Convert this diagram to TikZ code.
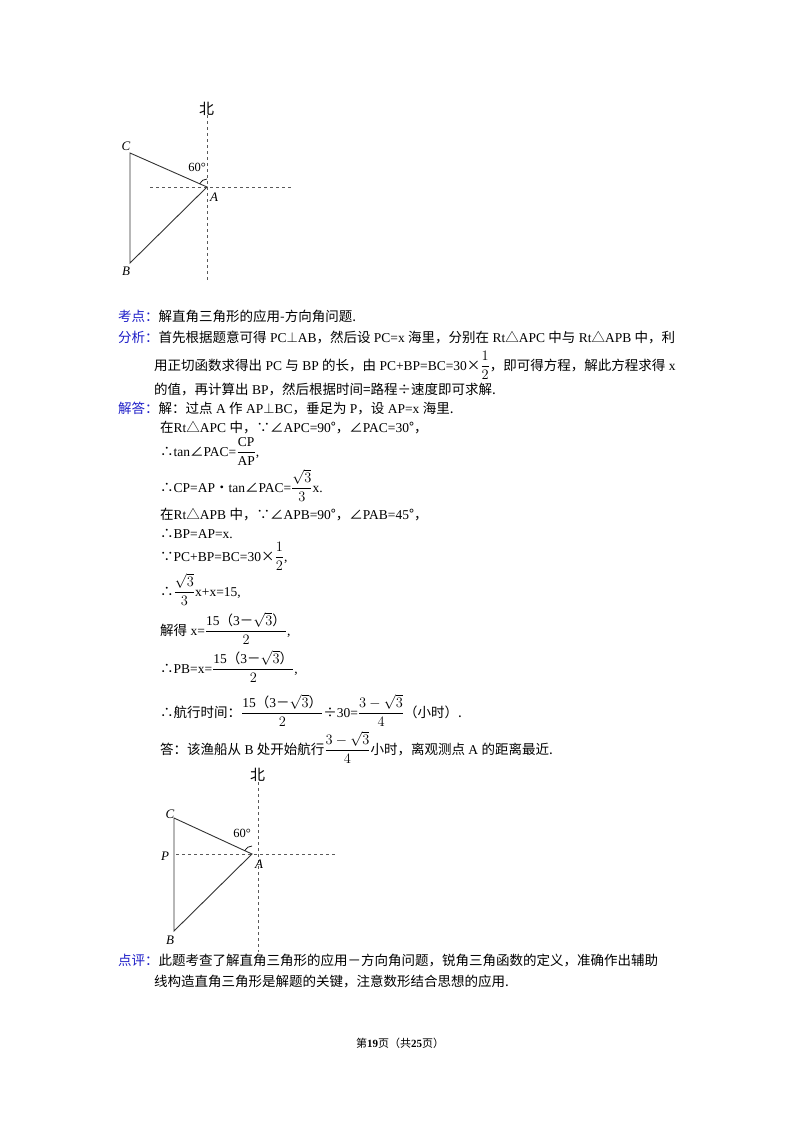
\documentclass[tikz,border=0pt]{standalone}
\usepackage{amsmath}
\usepackage{fontspec}
\setmainfont{Liberation Serif}
\newfontfamily\cjk{Noto Sans CJK SC}
\newcommand\zh[1]{{\cjk #1}}
\definecolor{labblue}{RGB}{30,30,200}
\newcommand\lab[1]{\textcolor{labblue}{\zh{#1}}}
\usetikzlibrary{calc}
\tikzset{
 line/.style={anchor=base west,inner sep=0pt,font=\fontsize{13.5}{16}\selectfont},
 dashln/.style={dash pattern=on 3pt off 3pt,gray!70!black,line width=0.8pt},
 tri/.style={line width=0.9pt,black!80},
 ptlab/.style={inner sep=0pt,font=\fontsize{13}{14}\selectfont\itshape},
 anglab/.style={inner sep=0pt,font=\fontsize{12.5}{14}\selectfont},
}
\begin{document}
\begin{tikzpicture}[x=1pt,y=-1pt]
\useasboundingbox (0,0) rectangle (800,1132);
\fill[white] (0,0) rectangle (800,1132);
% figure 1
\coordinate (n1t) at (207,115); \coordinate (n1b) at (207,282);
\coordinate (h1l) at (150,187); \coordinate (h1r) at (292,187);
\draw[dashln] (n1t) -- (n1b); \draw[dashln] (h1l) -- (h1r);
\coordinate (A1) at (207,187); \coordinate (C1) at (130,153); \coordinate (B1) at (130,263);
\draw[tri] (C1) -- (A1) -- (B1) -- cycle;
\draw[line width=0.7pt] ($(A1)+(0,-8)$) arc (-90:-156:8);
\node[line,font=\fontsize{15}{16}\selectfont] (bei1) at (199,114) {\zh{北}};
\node[ptlab] (lc1) at (126,146) {C};
\node[ptlab] (lb1) at (126,271) {B};
\node[ptlab] (la1) at (214,197) {A};
\node[anglab] (ang1) at (197,167) {60°};
% text
\node[line] (t1a) at (118,321) {\lab{考点：}\zh{解直角三角形的应用-方向角问题.}};
\node[line] (t2) at (118,342) {\lab{分析：}\zh{首先根据题意可得} PC$\perp$AB\zh{，然后设} PC=x \zh{海里，分别在} Rt\zh{△}APC \zh{中与} Rt\zh{△}APB \zh{中，利}};
\node[line] (t3) at (154,370) {\zh{用正切函数求得出} PC \zh{与} BP \zh{的长，由} PC+BP=BC=30\zh{×}$\dfrac{1}{2}$\zh{，即可得方程，解此方程求得} x};
\node[line] (t4) at (154,394) {\zh{的值，再计算出} BP\zh{，然后根据时间=路程÷速度即可求解.}};
\node[line] (t5) at (118,413) {\lab{解答：}\zh{解：过点} A \zh{作} AP$\perp$BC\zh{，垂足为} P\zh{，设} AP=x \zh{海里.}};
\node[line] (t6) at (160,432) {\zh{在}Rt\zh{△}APC \zh{中，∵∠}APC=90\zh{°，∠}PAC=30\zh{°，}};
\node[line] (t7) at (160,456) {\zh{∴}tan\zh{∠}PAC=$\dfrac{\mathrm{CP}}{\mathrm{AP}}$,};
\node[line] (t8) at (160,492) {\zh{∴}CP=AP\zh{•}tan\zh{∠}PAC=$\dfrac{\sqrt{3}}{3}$x.};
\node[line] (t9) at (160,519) {\zh{在}Rt\zh{△}APB \zh{中，∵∠}APB=90\zh{°，∠}PAB=45\zh{°，}};
\node[line] (t10) at (160,538) {\zh{∴}BP=AP=x.};
\node[line] (t11) at (160,561) {\zh{∵}PC+BP=BC=30\zh{×}$\dfrac{1}{2}$,};
\node[line] (t12) at (160,596) {\zh{∴}$\dfrac{\sqrt{3}}{3}$x+x=15,};
\node[line] (t13) at (160,635) {\zh{解得} x=$\dfrac{\text{15\zh{（}3\zh{－}$\sqrt{3}$\zh{）}}}{2}$,};
\node[line] (t14) at (160,673) {\zh{∴}PB=x=$\dfrac{\text{15\zh{（}3\zh{－}$\sqrt{3}$\zh{）}}}{2}$,};
\node[line] (t15) at (160,717) {\zh{∴航行时间：}$\dfrac{\text{15\zh{（}3\zh{－}$\sqrt{3}$\zh{）}}}{2}$\zh{÷}30=$\dfrac{3-\sqrt{3}}{4}$\zh{（小时）.}};
\node[line] (t16) at (160,754) {\zh{答：该渔船从} B \zh{处开始航行}$\dfrac{3-\sqrt{3}}{4}$\zh{小时，离观测点} A \zh{的距离最近.}};
% figure 2
\coordinate (n2t) at (258,782); \coordinate (n2b) at (258,952);
\coordinate (h2l) at (176,854); \coordinate (h2r) at (336,854);
\draw[dashln] (n2t) -- (n2b); \draw[dashln] (h2l) -- (h2r);
\coordinate (A2) at (252,854); \coordinate (C2) at (174,818); \coordinate (B2) at (174,931);
\draw[tri] (C2) -- (A2) -- (B2) -- cycle;
\draw[line width=0.7pt] ($(A2)+(0,-8)$) arc (-90:-155:8);
\node[line,font=\fontsize{15}{16}\selectfont] (bei2) at (250,780) {\zh{北}};
\node[ptlab] (lc2) at (170,814) {C};
\node[ptlab] (lp2) at (165,856) {P};
\node[ptlab] (lb2) at (170,940) {B};
\node[ptlab] (la2) at (259,864) {A};
\node[anglab] (ang2) at (242,833) {60°};
\node[line] (t17) at (118,965) {\lab{点评：}\zh{此题考查了解直角三角形的应用－方向角问题，锐角三角函数的定义，准确作出辅助}};
\node[line] (t18) at (154,986) {\zh{线构造直角三角形是解题的关键，注意数形结合思想的应用.}};
\node[inner sep=0pt,font=\fontsize{11}{13}\selectfont] (foot) at (400,1043) {\zh{第}\textbf{19}\zh{页（共}\textbf{25}\zh{页）}};
\end{tikzpicture}
\end{document}
